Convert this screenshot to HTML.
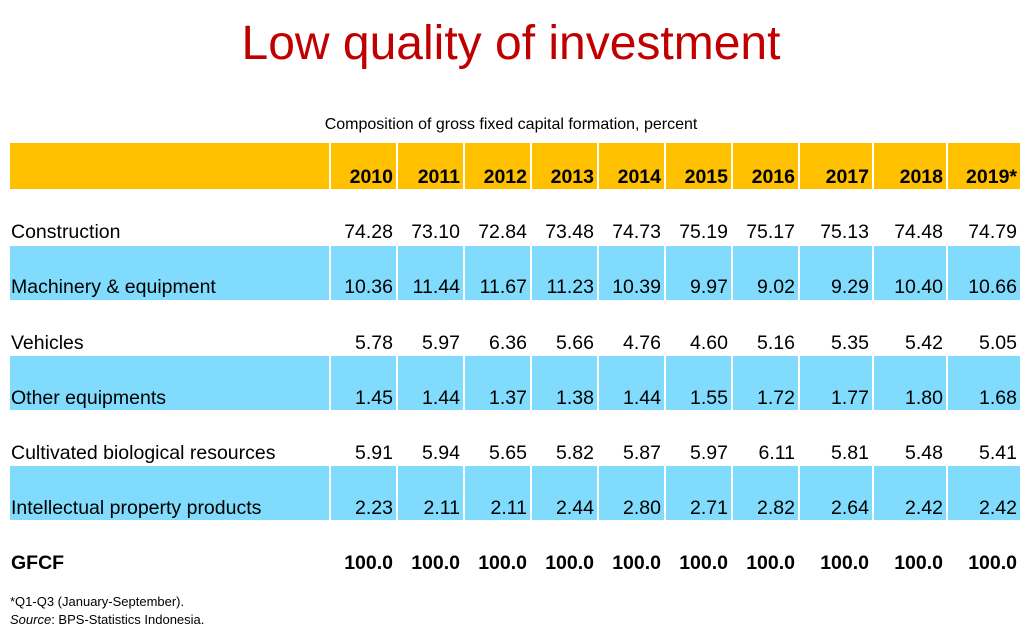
<!DOCTYPE html>
<html><head><meta charset="utf-8"><style>
body{margin:0;width:1022px;height:634px;background:#fff;position:relative;overflow:hidden;font-family:"Liberation Sans",sans-serif;color:#000}
.t{position:absolute;left:0;width:1022px;text-align:center;top:16px;font-size:48px;color:#c00000}
.s{position:absolute;left:0;width:1022px;text-align:center;top:116px;font-size:16px}
.bg{position:absolute;left:10px;width:1010px}
.c{position:absolute;font-size:19.5px;white-space:nowrap;line-height:22px}
.sep{position:absolute;width:2px;background:#fff}
.f{position:absolute;left:10px;font-size:13px}
</style></head><body>
<div class="t">Low quality of investment</div>
<div class="s">Composition of gross fixed capital formation, percent</div>
<div class="bg" style="top:143px;height:46px;background:#ffc000"></div>
<div class="bg" style="top:246px;height:54px;background:#80dbfc"></div>
<div class="bg" style="top:356px;height:54px;background:#80dbfc"></div>
<div class="bg" style="top:466px;height:54px;background:#80dbfc"></div>
<div id="seps"></div>
<div id="cells"></div>
<div class="f" style="top:594px">*Q1-Q3 (January-September).</div>
<div class="f" style="top:612px"><i>Source</i>: BPS-Statistics Indonesia.</div>
<script>
var edges=[329,396,463,530,597,664,731,798,872,946,1020];
var h='';
[[143,46],[246,54],[356,54],[466,54]].forEach(function(r){edges.slice(0,10).forEach(function(x){h+='<div class="sep" style="left:'+x+'px;top:'+r[0]+'px;height:'+r[1]+'px"></div>';});});
document.getElementById('seps').innerHTML=h;
var rows=[
["",["2010","2011","2012","2013","2014","2015","2016","2017","2018","2019*"],166,1],
["Construction",["74.28","73.10","72.84","73.48","74.73","75.19","75.17","75.13","74.48","74.79"],221,0],
["Machinery &amp; equipment",["10.36","11.44","11.67","11.23","10.39","9.97","9.02","9.29","10.40","10.66"],276,0],
["Vehicles",["5.78","5.97","6.36","5.66","4.76","4.60","5.16","5.35","5.42","5.05"],332,0],
["Other equipments",["1.45","1.44","1.37","1.38","1.44","1.55","1.72","1.77","1.80","1.68"],387,0],
["Cultivated biological resources",["5.91","5.94","5.65","5.82","5.87","5.97","6.11","5.81","5.48","5.41"],442,0],
["Intellectual property products",["2.23","2.11","2.11","2.44","2.80","2.71","2.82","2.64","2.42","2.42"],497,0],
["GFCF",["100.0","100.0","100.0","100.0","100.0","100.0","100.0","100.0","100.0","100.0"],552,1]];
var c='';
rows.forEach(function(r){
 var fw=r[3]?'bold':'normal';
 c+='<div class="c" style="left:11px;top:'+r[2]+'px;font-weight:'+fw+'">'+r[0]+'</div>';
 r[1].forEach(function(v,i){c+='<div class="c" style="right:'+(1022-edges[i+1]+3)+'px;top:'+r[2]+'px;font-weight:'+fw+'">'+v+'</div>';});
});
document.getElementById('cells').innerHTML=c;
</script>
</body></html>
